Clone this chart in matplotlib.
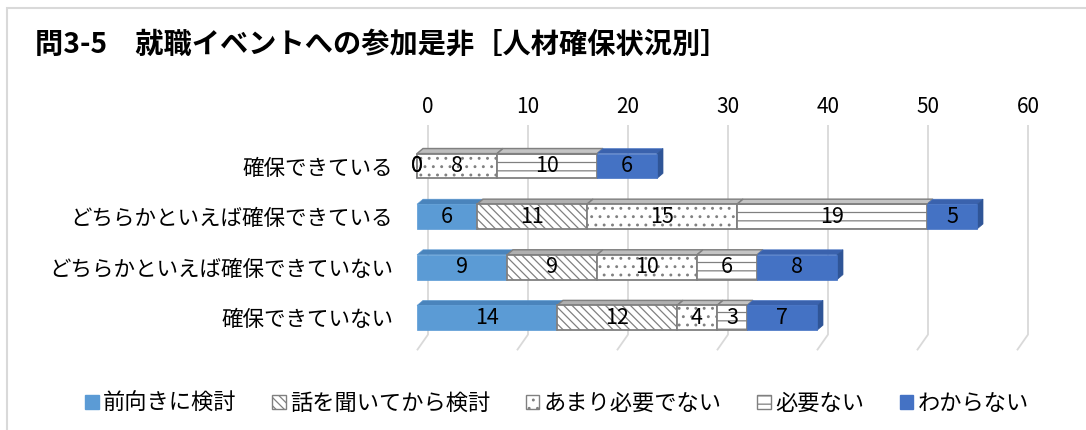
import matplotlib
matplotlib.use('Agg')
import matplotlib.pyplot as plt
from matplotlib.patches import Polygon, Rectangle, Patch

plt.rcParams['font.family'] = ['Noto Sans CJK JP', 'DejaVu Sans']
plt.rcParams['hatch.linewidth'] = 0.9

title = '問3-5　就職イベントへの参加是非［人材確保状況別］'
categories = ['確保できている', 'どちらかといえば確保できている',
              'どちらかといえば確保できていない', '確保できていない']
series_names = ['前向きに検討', '話を聞いてから検討', 'あまり必要でない', '必要ない', 'わからない']
mae_muki = [0, 6, 9, 14]
hanashi = [0, 11, 9, 12]
amari = [8, 15, 10, 4]
hitsuyou_nai = [10, 19, 6, 3]
wakaranai = [6, 5, 8, 7]
ticks = [0, 10, 20, 30, 40, 50, 60]

series = [mae_muki, hanashi, amari, hitsuyou_nai, wakaranai]
styles = [
    dict(fc='#5B9BD5', ec='#5B9BD5', hatch=None, top='#4A84BC'),
    dict(fc='white', ec='#808080', hatch='\\\\\\\\', top='#B0B0B0'),
    dict(fc='white', ec='#808080', hatch='..', top='#BDBDBD'),
    dict(fc='white', ec='#808080', hatch='--', top='#C4C4C4'),
    dict(fc='#4472C4', ec='#4472C4', hatch=None, top='#3A62AD'),
]

W, H = 1086, 430
fig = plt.figure(figsize=(W / 100, H / 100), dpi=100)
ax = fig.add_axes([400 / W, 1 - 370 / H, 660 / W, 245 / H])
ax.set_xlim(-1.7, 64.3)
ax.set_ylim(4.03, -0.81)

h = 0.49      # bar height
dx, dy = 0.6, 0.1   # depth of bar top face
back = 1.1    # back wall offset

# back wall gridlines + floor diagonals
for t in ticks:
    ax.plot([t + back, t + back, t], [-0.81, 3.33, 3.64], color='#D9D9D9', lw=1.3, zorder=1,
            solid_capstyle='butt')

y = list(range(len(categories)))
left = [0] * len(categories)
for vals, st in zip(series, styles):
    lw = 1.3 if st['hatch'] else 0.5
    bars = ax.barh(y, vals, left=left, height=h, color=st['fc'], edgecolor=st['ec'],
                   hatch=st['hatch'], lw=lw, zorder=3)
    for i, (v, l) in enumerate(zip(vals, left)):
        if v > 0:
            top = i - h / 2
            ax.add_patch(Polygon([(l, top), (l + v, top), (l + v + dx, top - dy), (l + dx, top - dy)],
                                 closed=True, fc=st['top'], ec=st['ec'], lw=lw * 0.8, zorder=2))
    ax.bar_label(bars, label_type='center', fontsize=15.5, color='black', zorder=5)
    left = [a + b for a, b in zip(left, vals)]

# right side face of the last segment
for i, tot in enumerate(left):
    top, bot = i - h / 2, i + h / 2
    ax.add_patch(Polygon([(tot, top), (tot + dx, top - dy), (tot + dx, bot - dy), (tot, bot)],
                         closed=True, fc='#2F5597', ec='#2F5597', lw=0.5, zorder=2))

ax.xaxis.tick_top()
ax.set_xticks([t + back for t in ticks], labels=[str(t) for t in ticks])
ax.set_yticks(y, labels=categories)
ax.tick_params(axis='x', length=0, pad=5, labelsize=15)
ax.tick_params(axis='y', length=0, pad=5, labelsize=15.5)
for s in ax.spines.values():
    s.set_visible(False)

handles = [Patch(facecolor=st['fc'], edgecolor=st['ec'], hatch=st['hatch'], lw=1.0) for st in styles]
fig.legend(handles, series_names, loc='center', bbox_to_anchor=(557 / W, 1 - 403 / H), ncol=5,
           frameon=False, fontsize=16, handlelength=0.6, handleheight=0.6, handletextpad=0.2,
           columnspacing=1.6)

fig.text(35 / W, 1 - 45 / H, title, fontsize=20.3, fontweight='bold', va='center')
fig.add_artist(Rectangle((7 / W, -0.1), 1.2, 1 - 8 / H + 0.1, transform=fig.transFigure,
                         fill=False, ec='#D9D9D9', lw=1.5))

fig.savefig('out.png', dpi=100)
